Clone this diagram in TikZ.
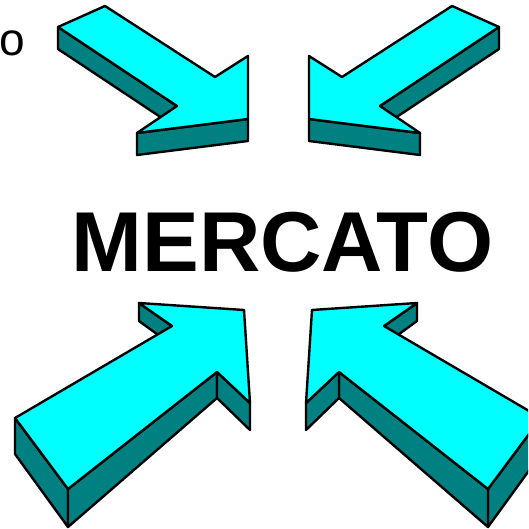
\documentclass[tikz,border=0pt]{standalone}
\usepackage{fontspec}
\setmainfont{Liberation Sans}
\definecolor{aqua}{RGB}{0,255,255}
\definecolor{tealdark}{RGB}{0,128,128}
\begin{document}
\begin{tikzpicture}[x=1pt,y=-1pt,
  topface/.style={fill=aqua, draw=black, line width=2.4pt, line join=round},
  sideface/.style={fill=tealdark, draw=black, line width=2.4pt, line join=round}]
\useasboundingbox (0,0) rectangle (528,529);
\clip (0,0) rectangle (528,529);
% Arrow 1 (top-left)
\draw[sideface] (58,27) -- (177,106) -- (177,128) -- (58,49) -- cycle;
\draw[sideface] (137,133) -- (248,119) -- (248,141) -- (137,155) -- cycle;
\draw[topface] (105,6) -- (215,77) -- (248,56) -- (248,119) -- (137,133) -- (177,106) -- (58,27) -- cycle;
% Arrow 2 (top-right)
\draw[sideface] (499,27) -- (380,106) -- (380,128) -- (499,49) -- cycle;
\draw[sideface] (420,133) -- (309,119) -- (309,141) -- (420,155) -- cycle;
\draw[topface] (452,6) -- (342,77) -- (309,56) -- (309,119) -- (420,133) -- (380,106) -- (499,27) -- cycle;
% Arrow 3 (bottom-left)
\draw[sideface] (139,303) -- (172,326) -- (172,345) -- (139,321) -- cycle;
\draw[sideface] (15,418) -- (68,489) -- (68,527) -- (15,454) -- cycle;
\draw[sideface] (68,489) -- (217,372) -- (217,398) -- (68,527) -- cycle;
\draw[sideface] (217,372) -- (250,403) -- (250,430) -- (217,398) -- cycle;
\draw[topface] (139,303) -- (244,310) -- (250,403) -- (217,372) -- (68,489) -- (15,418) -- (172,326) -- cycle;
% Arrow 4 (bottom-right)
\draw[sideface] (417,303) -- (384,326) -- (384,345) -- (417,321) -- cycle;
\draw[sideface] (541,418) -- (488,489) -- (488,527) -- (541,454) -- cycle;
\draw[sideface] (488,489) -- (339,372) -- (339,398) -- (488,527) -- cycle;
\draw[sideface] (339,372) -- (306,403) -- (306,430) -- (339,398) -- cycle;
\draw[topface] (417,303) -- (312,310) -- (306,403) -- (339,372) -- (488,489) -- (541,418) -- (384,326) -- cycle;
% Texts
\node[anchor=base, inner sep=0pt, font=\fontsize{85}{85}\selectfont\bfseries] (mercato) at (282.5,271) {MERCATO};
\node[anchor=base west, inner sep=0pt, font=\fontsize{46}{46}\selectfont] (o) at (-0.6,56) {o};
\end{tikzpicture}
\end{document}
